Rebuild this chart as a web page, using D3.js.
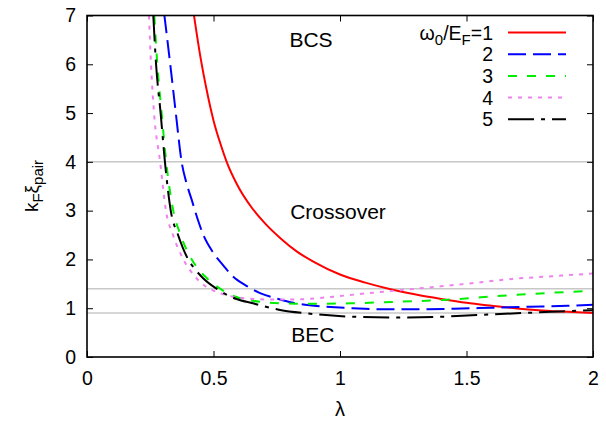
<!DOCTYPE html>
<html>
<head>
<meta charset="utf-8">
<script src="https://cdn.jsdelivr.net/npm/d3@7"></script>
<style>
  html, body { margin: 0; padding: 0; background: #fff; }
  svg { display: block; }
  text { font-family: "Liberation Sans", Arial, Helvetica, sans-serif; fill: #000; }
</style>
</head>
<body>
<svg id="chart" width="606" height="422"></svg>
<script>
// ---- data ----
const xTicks = [0, 0.5, 1, 1.5, 2];
const xTickLabels = ["0", "0.5", "1", "1.5", "2"];
const yTicks = [0, 1, 2, 3, 4, 5, 6, 7];
const yTickLabels = ["0", "1", "2", "3", "4", "5", "6", "7"];
const guideLines = [4, 1.4, 0.9];
const seriesNames = ["1", "2", "3", "4", "5"];

const lambda1 = [0.423, 0.45, 0.47, 0.5, 0.53, 0.552, 0.6, 0.65, 0.7, 0.77, 0.83, 0.9, 1.0, 1.1, 1.2, 1.3, 1.4, 1.5, 1.6, 1.7, 1.8, 1.9, 2.0];
const xi1     = [7.0,   6.1,  5.55, 4.85, 4.33, 4.0,  3.47, 3.07, 2.76, 2.41, 2.16, 1.94, 1.69, 1.525, 1.39, 1.28, 1.19, 1.11, 1.05, 0.995, 0.955, 0.925, 0.9];

const lambda2 = [0.306, 0.329, 0.351, 0.374, 0.394, 0.414, 0.434, 0.46, 0.5, 0.54, 0.577, 0.63, 0.684, 0.75, 0.815, 0.88, 0.947, 1.05, 1.15, 1.3, 1.45, 1.6, 1.75, 1.9, 2.0];
const xi2     = [7.0,   6.0,   5.0,   4.0,   3.55,  3.22,  2.88,  2.5,  2.13, 1.87, 1.65, 1.46, 1.31, 1.2, 1.11, 1.06, 1.03, 1.0, 0.98, 0.98, 0.99, 1.01, 1.03, 1.05, 1.07];

const lambda3 = [0.266, 0.278, 0.295, 0.313, 0.341, 0.37, 0.414, 0.44, 0.473, 0.526, 0.585, 0.65, 0.763, 0.894, 1.04, 1.16, 1.41, 1.68, 1.85, 2.0];
const xi3     = [7.0,   6.0,   5.0,   4.0,   3.0,   2.5,  2.0,   1.8,  1.62,  1.40,  1.24,  1.16, 1.10,  1.09,  1.10, 1.12, 1.17, 1.27, 1.32, 1.36];

const lambda4 = [0.245, 0.253, 0.265, 0.289, 0.312, 0.34, 0.381, 0.427, 0.46, 0.5, 0.55, 0.63, 0.72, 0.82, 0.92, 1.0, 1.135, 1.3, 1.5, 1.68, 1.85, 2.0];
const xi4     = [7.0,   6.0,   5.0,   4.0,   3.0,   2.5,  2.0,   1.65,  1.48, 1.36, 1.27, 1.2, 1.18, 1.18, 1.21, 1.25, 1.32, 1.4, 1.5, 1.6, 1.66, 1.71];

const lambda5 = [0.262, 0.273, 0.291, 0.308, 0.331, 0.36, 0.40, 0.43, 0.46, 0.512, 0.585, 0.656, 0.763, 0.868, 1.03, 1.2, 1.37, 1.54, 1.81, 2.0];
const xi5     = [7.0,   6.0,   5.0,   4.0,   3.0,   2.5,  2.0,  1.78, 1.61, 1.40,  1.2,   1.10,  0.965, 0.895, 0.83, 0.81, 0.82, 0.86, 0.92, 0.96];

const regionNames = ["BCS", "Crossover", "BEC"];

// ---- layout / style ----
const W = 606, H = 422;
const L = 87, R = 593, T = 15.5, B = 357;
const colors = ["#ff0000", "#0000ff", "#00ee00", "#ee82ee", "#000000"];
const dashes = [null, "18,7", "9,10", "4,6", "26,7,4,7"];

const svg = d3.select("#chart");
const x = d3.scaleLinear().domain([0, 2]).range([L, R]);
const y = d3.scaleLinear().domain([0, 7]).range([B, T]);

svg.append("defs").append("clipPath").attr("id", "clip")
  .append("rect").attr("x", L).attr("y", T).attr("width", R - L).attr("height", B - T);

// guide lines
svg.append("g").selectAll("line").data(guideLines).join("line")
  .attr("x1", L).attr("x2", R)
  .attr("y1", d => y(d)).attr("y2", d => y(d))
  .attr("stroke", "#c8c8c8").attr("stroke-width", 1.5);

// region labels (position in data units, anchor start)
const regionPos = [[0.80, 6.35], [0.803, 2.83], [0.807, 0.31]];
svg.append("g").selectAll("text").data(regionNames).join("text")
  .attr("x", (d, i) => x(regionPos[i][0]))
  .attr("y", (d, i) => y(regionPos[i][1]))
  .attr("text-anchor", "start")
  .attr("font-size", 21)
  .text(d => d);

// curves
const series = [
  lambda1.map((l, i) => [l, xi1[i]]),
  lambda2.map((l, i) => [l, xi2[i]]),
  lambda3.map((l, i) => [l, xi3[i]]),
  lambda4.map((l, i) => [l, xi4[i]]),
  lambda5.map((l, i) => [l, xi5[i]])
];
const line = d3.line().x(d => x(d[0])).y(d => y(d[1])).curve(d3.curveMonotoneX);
svg.append("g").attr("clip-path", "url(#clip)")
  .selectAll("path").data(series).join("path")
  .attr("d", line)
  .attr("fill", "none")
  .attr("stroke", (d, i) => colors[i])
  .attr("stroke-width", 2)
  .attr("stroke-dasharray", (d, i) => dashes[i]);

// axes (gnuplot-style inward ticks, mirrored)
const axB = d3.axisBottom(x).tickValues(xTicks).tickFormat((d, i) => xTickLabels[i]).tickSizeInner(-6).tickSizeOuter(0).tickPadding(14);
const axT = d3.axisTop(x).tickValues(xTicks).tickFormat("").tickSizeInner(-6).tickSizeOuter(0);
const axLft = d3.axisLeft(y).tickValues(yTicks).tickFormat((d, i) => yTickLabels[i]).tickSizeInner(-6).tickSizeOuter(0).tickPadding(11);
const axRgt = d3.axisRight(y).tickValues(yTicks).tickFormat("").tickSizeInner(-6).tickSizeOuter(0);

function style(g) {
  g.selectAll(".domain").remove();
  g.selectAll(".tick line").attr("stroke", "#000").attr("stroke-width", 1);
  g.selectAll(".tick text").attr("font-size", 19.5).attr("font-family", "Liberation Sans, Arial, sans-serif").attr("fill", "#000");
}
svg.append("g").attr("transform", `translate(0,${B})`).call(axB).call(style);
svg.append("g").attr("transform", `translate(0,${T})`).call(axT).call(style);
svg.append("g").attr("transform", `translate(${L},0)`).call(axLft).call(style);
svg.append("g").attr("transform", `translate(${R},0)`).call(axRgt).call(style);

// frame
svg.append("rect").attr("x", L).attr("y", T).attr("width", R - L).attr("height", B - T)
  .attr("fill", "none").attr("stroke", "#000").attr("stroke-width", 1.6);

// axis titles
svg.append("text").attr("x", x(1)).attr("y", 416).attr("text-anchor", "middle")
  .attr("font-size", 20).text("λ");

const yl = svg.append("text").attr("transform", "translate(38,186) rotate(-90)")
  .attr("text-anchor", "middle").attr("font-size", 19);
yl.append("tspan").text("k");
yl.append("tspan").attr("dy", 5).attr("font-size", 15).text("F");
yl.append("tspan").attr("dy", -5).text("ξ");
yl.append("tspan").attr("dy", 5).attr("font-size", 15).text("pair");

// legend
const legX = 493, legY0 = 32.5, legDy = 21.7, sampX1 = 508, sampX2 = 566;
const leg = svg.append("g");
seriesNames.forEach((name, i) => {
  const cy = legY0 + i * legDy;
  const t = leg.append("text").attr("x", legX).attr("y", cy + 7).attr("text-anchor", "end").attr("font-size", 19.5);
  if (i === 0) {
    t.append("tspan").text("ω");
    t.append("tspan").attr("dy", 5).attr("font-size", 15).text("0");
    t.append("tspan").attr("dy", -5).text("/E");
    t.append("tspan").attr("dy", 5).attr("font-size", 15).text("F");
    t.append("tspan").attr("dy", -5).text("=" + name);
  } else {
    t.text(name);
  }
  leg.append("line").attr("x1", sampX1).attr("x2", sampX2).attr("y1", cy).attr("y2", cy)
    .attr("stroke", colors[i]).attr("stroke-width", 2)
    .attr("stroke-dasharray", dashes[i]);
});
</script>
</body>
</html>
